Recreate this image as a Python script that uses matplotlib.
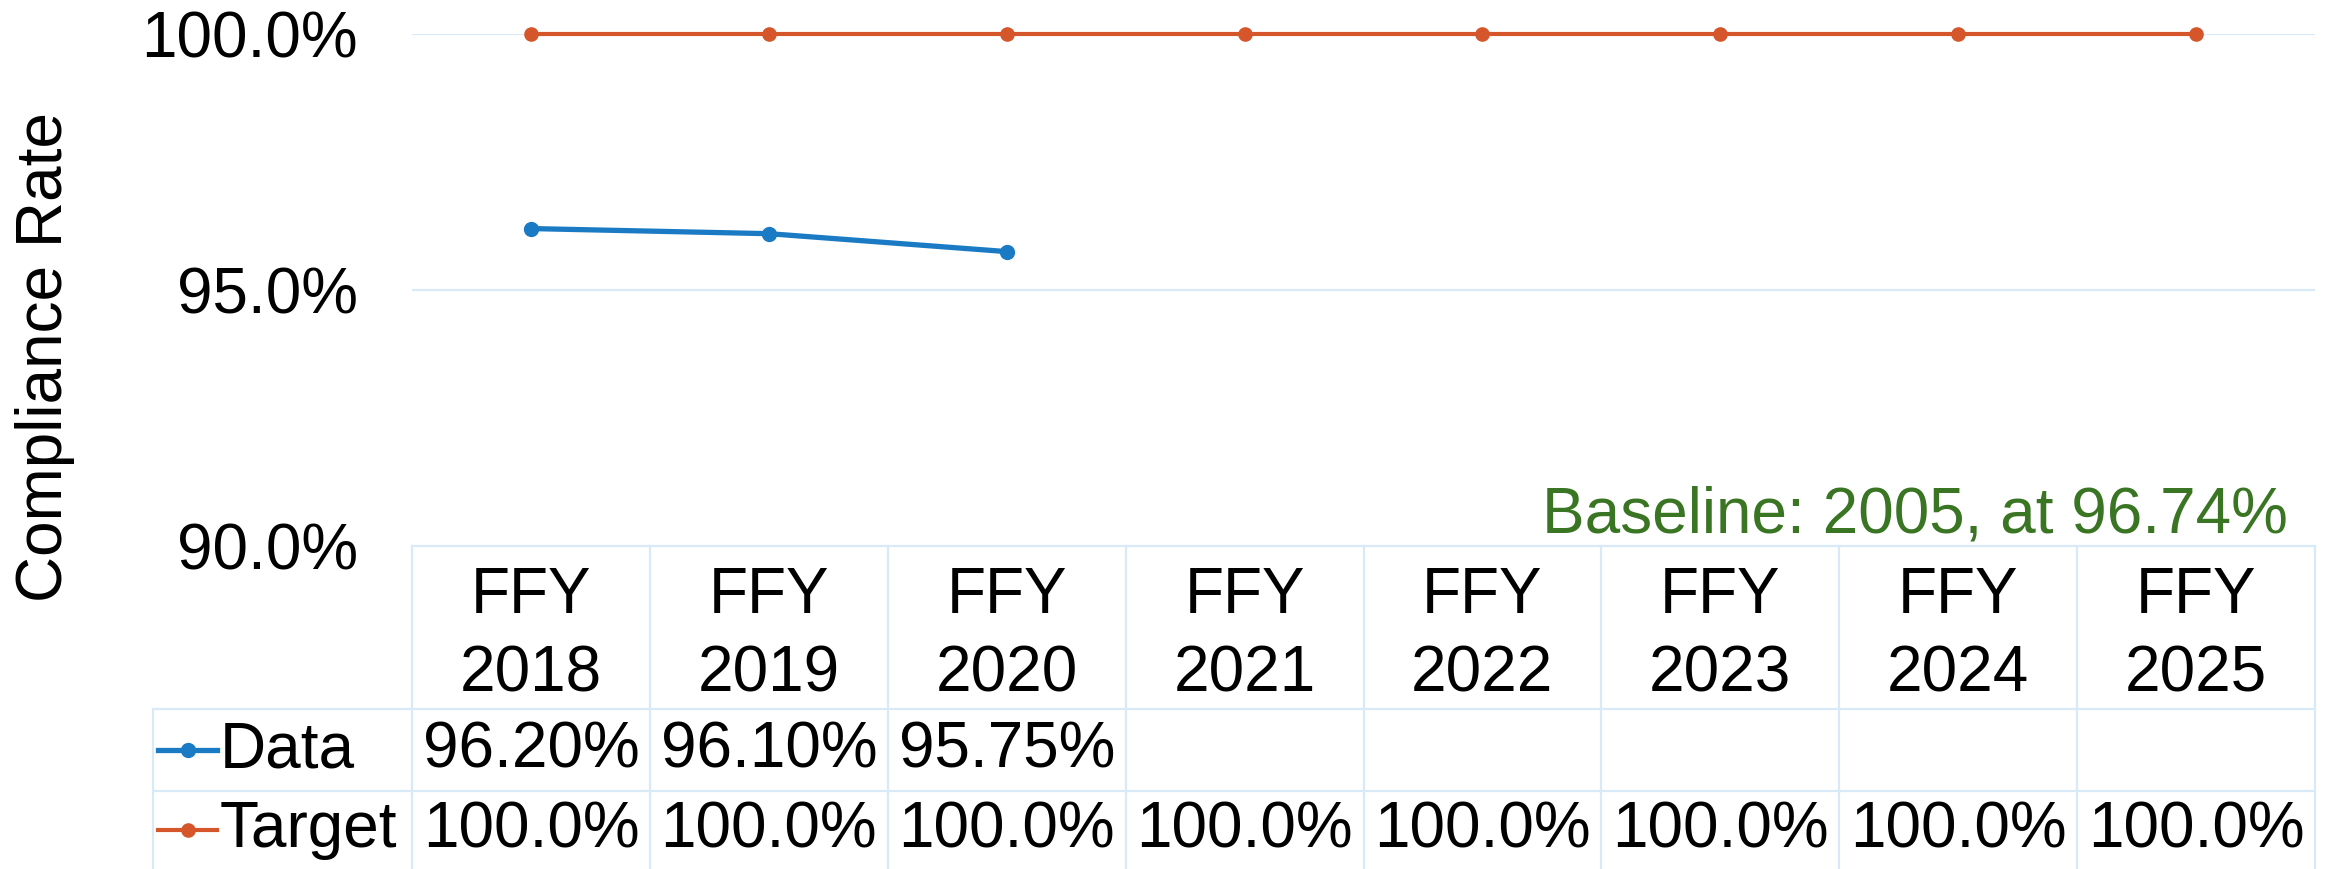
import matplotlib.pyplot as plt
import numpy as np

# data
years = ["FFY\n2018", "FFY\n2019", "FFY\n2020", "FFY\n2021",
         "FFY\n2022", "FFY\n2023", "FFY\n2024", "FFY\n2025"]
data_vals = [96.20, 96.10, 95.75, None, None, None, None, None]
target_vals = [100.0, 100.0, 100.0, 100.0, 100.0, 100.0, 100.0, 100.0]
y_ticks = [90.0, 95.0, 100.0]
baseline_text = "Baseline: 2005, at 96.74%"

BLUE = "#1a7bc4"
ORANGE = "#d4562a"
GREEN = "#3a7523"
GRID = "#d8e9f7"

plt.rcParams.update({
    "font.family": ["Liberation Sans", "DejaVu Sans"],
    "font.size": 46,
})

W, H = 2331, 869
fig = plt.figure(figsize=(W / 100, H / 100), dpi=100)

# plot area in pixels
left, right, top, tab_top = 412, 2315, 34, 546
ax = fig.add_axes([left / W, (H - tab_top) / H, (right - left) / W, (tab_top - top) / H])
n = len(years)
x = np.arange(n)
ax.set_xlim(-0.5, n - 0.5)
ax.set_ylim(90, 100)
for s in ax.spines.values():
    s.set_visible(False)
ax.set_xticks([])
ax.set_yticks(y_ticks)
ax.set_yticklabels([f"{v:.1f}%" for v in y_ticks])
ax.tick_params(axis="y", length=0, pad=39)
for v in y_ticks[1:]:
    ax.axhline(v, color=GRID, linewidth=1.6, zorder=1)

dx = [i for i, v in enumerate(data_vals) if v is not None]
dy = [data_vals[i] for i in dx]
ax.plot(x, target_vals, color=ORANGE, linewidth=3.0, marker="o", markersize=9.5,
        clip_on=False, zorder=3)
ax.plot(dx, dy, color=BLUE, linewidth=3.8, marker="o", markersize=10,
        clip_on=False, zorder=3)

ax.text(0.986, 0.027, baseline_text, transform=ax.transAxes, ha="right",
        va="baseline", color=GREEN)

fig.text(45 / W, 1 - 357 / H, "Compliance Rate", rotation=90, ha="center", va="center")

# data table below the axes
col_w = (right - left) / n
leg_left = 153
tab = fig.add_axes([leg_left / W, 0, (right - leg_left) / W, (H - tab_top) / H])
x0 = -0.5 - (left - leg_left) / col_w
tab.set_xlim(x0, n - 0.5)
rows = [0, 163, 245, 323]
tab.set_ylim(rows[-1], 0)
tab.axis("off")

lw = 1.6
tab.plot([-0.5, n - 0.5], [rows[0], rows[0]], color=GRID, lw=lw, clip_on=False)
for r in rows[1:3]:
    tab.plot([x0, n - 0.5], [r, r], color=GRID, lw=lw, clip_on=False)
for i in range(n + 1):
    tab.plot([i - 0.5, i - 0.5], [rows[0], rows[-1] + 5], color=GRID, lw=lw, clip_on=False)
tab.plot([x0, x0], [rows[1], rows[-1] + 5], color=GRID, lw=lw, clip_on=False)

for i, lab in enumerate(years):
    tab.text(i, (rows[0] + rows[1]) / 2 + 8, lab, ha="center", va="center",
             linespacing=1.4)

row_specs = [("Data", data_vals, BLUE, "{:.2f}%", 3.8, 10),
             ("Target", target_vals, ORANGE, "{:.1f}%", 3.0, 9.5)]
for k, (name, vals, col, fmt, lwid, ms) in enumerate(row_specs):
    yc = (rows[k + 1] + rows[k + 2]) / 2
    lx0 = x0 + 5 / col_w
    lx1 = x0 + 64 / col_w
    tab.plot([lx0, lx1], [yc, yc], color=col, lw=lwid, clip_on=False)
    tab.plot([(lx0 + lx1) / 2], [yc], color=col, marker="o", markersize=ms, clip_on=False)
    tab.text(x0 + 67 / col_w, yc, name, ha="left", va="center")
    for i, v in enumerate(vals):
        if v is not None:
            tab.text(i, yc, fmt.format(v), ha="center", va="center")

fig.savefig("out.png", dpi=100)
